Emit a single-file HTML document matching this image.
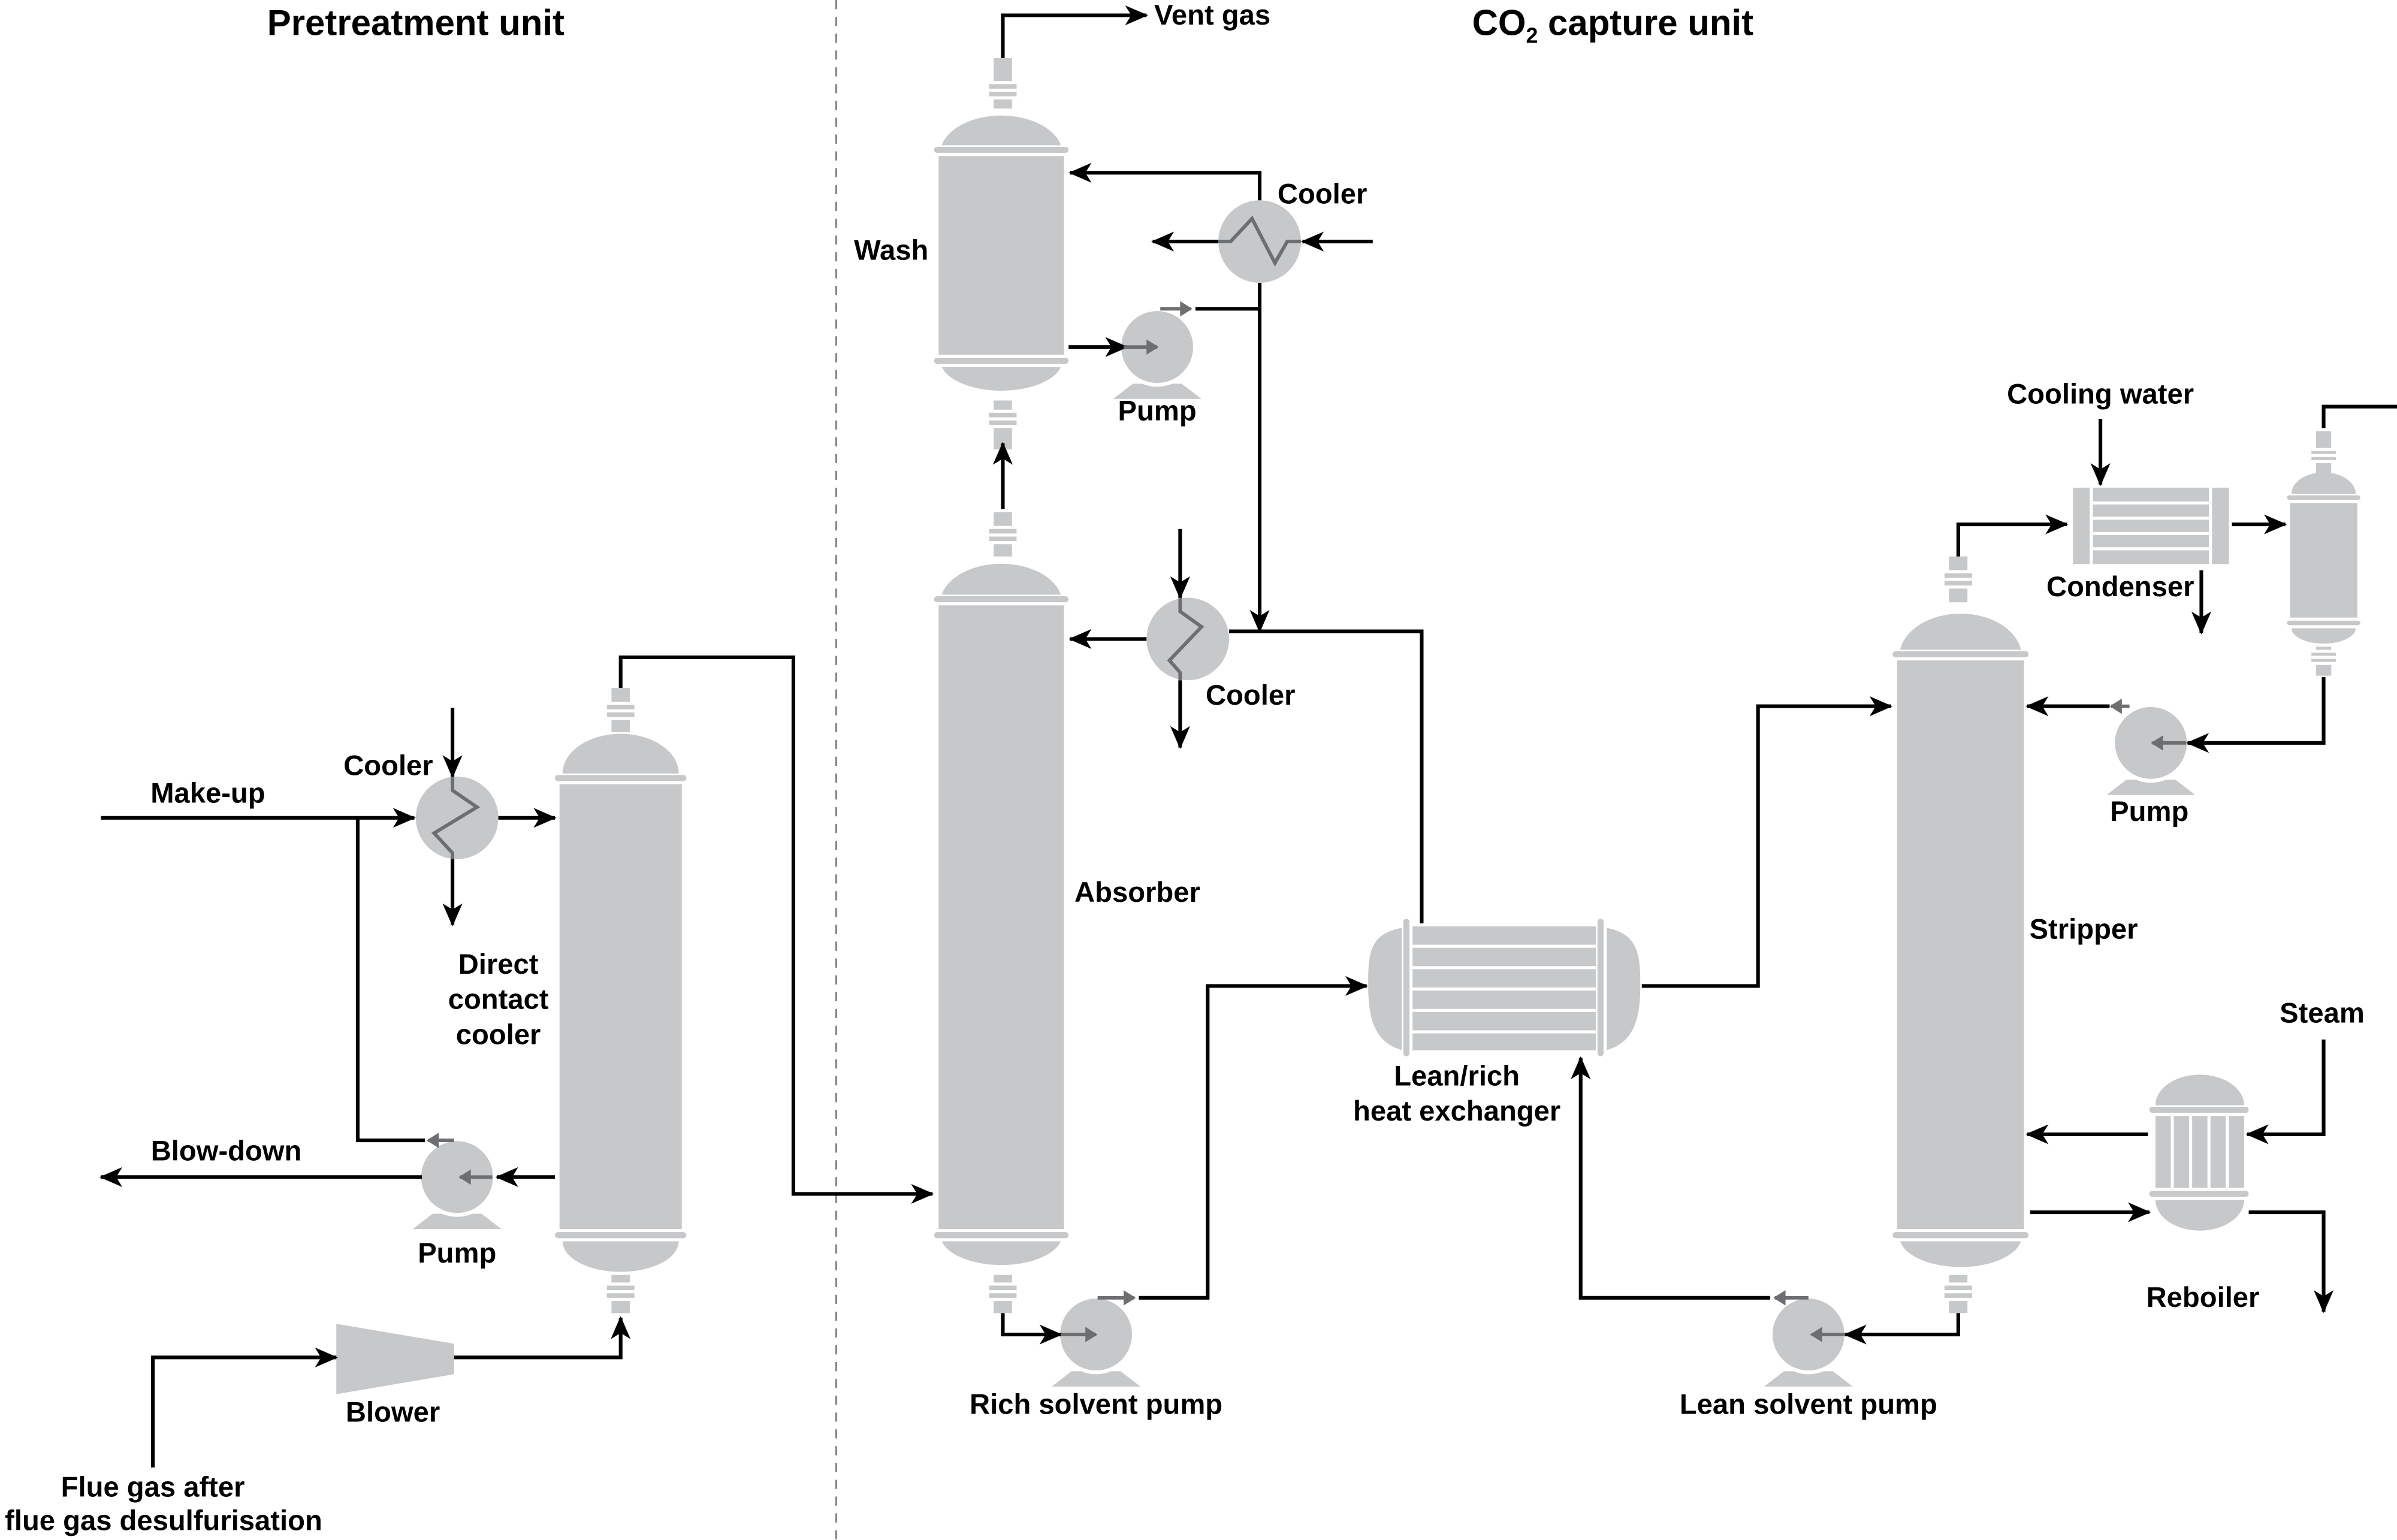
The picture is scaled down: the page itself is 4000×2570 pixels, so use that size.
<!DOCTYPE html>
<html><head><meta charset="utf-8"><style>
html,body{margin:0;padding:0;background:#fff;}
svg{display:block;}
text{font-family:"Liberation Sans Narrow","Liberation Sans",sans-serif;font-weight:bold;font-size:18.5px;fill:#000;}
</style></head><body>
<svg width="4000" height="2570" viewBox="0 0 1568 1007.4" xmlns="http://www.w3.org/2000/svg">
<defs>
<marker id="a" markerUnits="userSpaceOnUse" orient="auto" overflow="visible" markerWidth="1" markerHeight="1" refX="0" refY="0"><path d="M1,0 L-14,-6.5 L-10,0 L-14,6.5 Z" fill="#000"/></marker>
<marker id="g" markerUnits="userSpaceOnUse" orient="auto" overflow="visible" markerWidth="1" markerHeight="1" refX="0" refY="0"><path d="M1,0 L-7,-5 L-7,5 Z" fill="#6d6e70"/></marker>
<g id="pump"><path d="M-29,34 L-16,24 L16,24 L29,34 Z" fill="#c7c8ca"/><circle r="26" fill="#fff"/><circle r="23.5" fill="#c7c8ca"/></g>
</defs>
<rect width="1568" height="1007.4" fill="#fff"/>
<line x1="547" y1="0" x2="547" y2="1007" stroke="#888" stroke-width="1.3" stroke-dasharray="6,5"/>

<g fill="#c7c8ca">
<rect x="650" y="38" width="12" height="15"/><rect x="647" y="55" width="18" height="3"/><rect x="647" y="60" width="18" height="3"/><rect x="650" y="65" width="12" height="6"/>
<path d="M616,95 A40,25 0 0 1 694,95 Z"/><rect x="611" y="96" width="88" height="4" rx="2"/><rect x="614" y="102" width="82" height="130"/><rect x="611" y="234" width="88" height="4" rx="2"/><path d="M616,240 A40,20 0 0 0 694,240 Z"/>
<rect x="650" y="262" width="12" height="6"/><rect x="647" y="270" width="18" height="3"/><rect x="647" y="275" width="18" height="3"/><rect x="650" y="280" width="12" height="14"/>
<rect x="650" y="335" width="12" height="9"/><rect x="647" y="346" width="18" height="3"/><rect x="647" y="351" width="18" height="3"/><rect x="650" y="356" width="12" height="8"/>
<path d="M616,389 A40,26 0 0 1 694,389 Z"/><rect x="611" y="390" width="88" height="4" rx="2"/><rect x="614" y="396" width="82" height="408"/><rect x="611" y="806" width="88" height="4" rx="2"/><path d="M616,812 A40,20 0 0 0 694,812 Z"/>
<rect x="650" y="834" width="12" height="5"/><rect x="647" y="841" width="18" height="3"/><rect x="647" y="846" width="18" height="3"/><rect x="650" y="851" width="12" height="8"/>
<rect x="400" y="450" width="12" height="9"/><rect x="397" y="461" width="18" height="3"/><rect x="397" y="466" width="18" height="3"/><rect x="400" y="471" width="12" height="8"/>
<path d="M368,506 A38,26 0 0 1 444,506 Z"/><rect x="363" y="507" width="86" height="4" rx="2"/><rect x="366" y="513" width="80" height="291"/><rect x="363" y="806" width="86" height="4" rx="2"/><path d="M368,812 A38,20 0 0 0 444,812 Z"/>
<rect x="400" y="834" width="12" height="5"/><rect x="397" y="841" width="18" height="3"/><rect x="397" y="846" width="18" height="3"/><rect x="400" y="851" width="12" height="8"/>
<rect x="1275" y="364" width="12" height="9"/><rect x="1272" y="375" width="18" height="3"/><rect x="1272" y="380" width="18" height="3"/><rect x="1275" y="385" width="12" height="9"/>
<path d="M1243,425 A40,28 0 0 1 1322,425 Z"/><rect x="1238" y="426" width="89" height="4" rx="2"/><rect x="1241" y="432" width="83" height="372"/><rect x="1238" y="806" width="89" height="4" rx="2"/><path d="M1243,812 A40,20 0 0 0 1322,812 Z"/>
<rect x="1275" y="834" width="12" height="5"/><rect x="1272" y="841" width="18" height="3"/><rect x="1272" y="846" width="18" height="3"/><rect x="1275" y="851" width="12" height="8"/>
<rect x="1515" y="282" width="10" height="11"/><rect x="1512" y="295" width="16" height="2"/><rect x="1512" y="299" width="16" height="2"/><rect x="1515" y="303" width="10" height="7"/>
<path d="M1499,323 A21,14 0 0 1 1541,323 Z"/><rect x="1496" y="324" width="48" height="3" rx="1.5"/><rect x="1498" y="329" width="44" height="75"/><rect x="1496" y="406" width="48" height="3" rx="1.5"/><path d="M1499,411 A21,10 0 0 0 1541,411 Z"/>
<rect x="1515" y="423" width="10" height="2"/><rect x="1512" y="427" width="16" height="2"/><rect x="1512" y="431" width="16" height="2"/><rect x="1515" y="435" width="10" height="7"/>
<path d="M1410,723 A29,20 0 0 1 1468,723 Z"/><rect x="1406" y="724" width="65" height="4" rx="2"/>
<rect x="1410" y="730" width="10" height="47"/><rect x="1422" y="730" width="10" height="47"/><rect x="1434" y="730" width="10" height="47"/><rect x="1446" y="730" width="10" height="47"/><rect x="1458" y="730" width="10" height="47"/>
<rect x="1406" y="779" width="65" height="4" rx="2"/><path d="M1410,785 A29,20 0 0 0 1468,785 Z"/>
<rect x="1356" y="319" width="11" height="50"/><rect x="1447" y="319" width="11" height="50"/>
<rect x="1369" y="319" width="76" height="9"/><rect x="1369" y="330" width="76" height="8"/><rect x="1369" y="340" width="76" height="8"/><rect x="1369" y="350" width="76" height="8"/><rect x="1369" y="360" width="76" height="9"/>
<path d="M917,607 C895,611 895,625 895,645 C895,668 900,682 917,687 Z"/><rect x="918" y="601" width="4" height="90" rx="2"/>
<rect x="924" y="606" width="120" height="12"/><rect x="924" y="620" width="120" height="12"/><rect x="924" y="634" width="120" height="12"/><rect x="924" y="648" width="120" height="12"/><rect x="924" y="662" width="120" height="12"/><rect x="924" y="676" width="120" height="11"/>
<rect x="1045" y="601" width="4" height="90" rx="2"/><path d="M1051,607 C1072,611 1073,625 1073,645 C1073,668 1068,682 1051,687 Z"/>
<path d="M220,866 L297,879 L297,899 L220,912 Z"/>
<circle cx="824" cy="158" r="27"/><circle cx="777" cy="418" r="27"/><circle cx="299" cy="535" r="27"/>
</g>
<use href="#pump" x="757" y="227"/><use href="#pump" x="299" y="770"/><use href="#pump" x="717" y="873"/><use href="#pump" x="1183" y="873"/><use href="#pump" x="1407" y="486"/>

<g fill="none" stroke="#000" stroke-width="2.4" stroke-linejoin="miter">
<path d="M656,38 V10 H750" marker-end="url(#a)"/>
<path d="M824,131 V113 H700" marker-end="url(#a)"/>
<path d="M898,158 H852" marker-end="url(#a)"/>
<path d="M797,158 H754" marker-end="url(#a)"/>
<path d="M824,185 V413" marker-end="url(#a)"/>
<path d="M782,202 H824"/>
<path d="M699,227 H737" marker-end="url(#a)"/>
<path d="M656,333 V290" marker-end="url(#a)"/>
<path d="M930,604 V413 H804"/>
<path d="M750,418 H700" marker-end="url(#a)"/>
<path d="M772,346 V391" marker-end="url(#a)"/>
<path d="M772,445 V489" marker-end="url(#a)"/>
<path d="M656,859 V873 H694" marker-end="url(#a)"/>
<path d="M745,849 H790 V645 H894" marker-end="url(#a)"/>
<path d="M1074,645 H1150 V462 H1237" marker-end="url(#a)"/>
<path d="M1281,859 V873 H1207" marker-end="url(#a)"/>
<path d="M1158,849 H1034 V692" marker-end="url(#a)"/>
<path d="M1281,364 V343 H1352" marker-end="url(#a)"/>
<path d="M1374,274 V317" marker-end="url(#a)"/>
<path d="M1440,373 V414" marker-end="url(#a)"/>
<path d="M1460,343 H1495" marker-end="url(#a)"/>
<path d="M1520,280 V266 H1568"/>
<path d="M1520,443 V486 H1431" marker-end="url(#a)"/>
<path d="M1380,462 H1326" marker-end="url(#a)"/>
<path d="M1520,680 V742 H1470" marker-end="url(#a)"/>
<path d="M1405,742 H1326" marker-end="url(#a)"/>
<path d="M1328,793 H1406" marker-end="url(#a)"/>
<path d="M1471,793 H1520 V858" marker-end="url(#a)"/>
<path d="M66,535 H271" marker-end="url(#a)"/>
<path d="M234,535 V746 H278"/>
<path d="M326,535 H363" marker-end="url(#a)"/>
<path d="M296,463 V508" marker-end="url(#a)"/>
<path d="M296,562 V605" marker-end="url(#a)"/>
<path d="M363,770 H325" marker-end="url(#a)"/>
<path d="M276,770 H66" marker-end="url(#a)"/>
<path d="M406,450 V430 H519 V781 H610" marker-end="url(#a)"/>
<path d="M100,960 V888 H220" marker-end="url(#a)"/>
<path d="M297,888 H406 V862" marker-end="url(#a)"/>
</g>
<g fill="none" stroke="#6d6e70" stroke-width="2.3">
<path d="M759,202 H779" marker-end="url(#g)"/>
<path d="M735,227 H757" marker-end="url(#g)"/>
<path d="M297,746 H280" marker-end="url(#g)"/>
<path d="M322,770 H301" marker-end="url(#g)"/>
<path d="M718,849 H742" marker-end="url(#g)"/>
<path d="M694,873 H717" marker-end="url(#g)"/>
<path d="M1183,849 H1161" marker-end="url(#g)"/>
<path d="M1207,873 H1185" marker-end="url(#g)"/>
<path d="M1393,462 H1381" marker-end="url(#g)"/>
<path d="M1430,486 H1408" marker-end="url(#g)"/>
<path d="M797,158 H805 L819,143 L834,172 L842,158 H851"/>
<path d="M772,391 V400 L786,410 L765,432 L772,440 V445"/>
<path d="M296,508 V517 L312,528 L284,545 L296,558 V562"/>
</g>

<text x="272" y="23" text-anchor="middle" style="font-size:23.5px">Pretreatment unit</text>
<text x="1055" y="23" text-anchor="middle" style="font-size:23.5px">CO<tspan style="font-size:14px" dy="5">2</tspan><tspan dy="-5"> capture unit</tspan></text>
<text x="755" y="16">Vent gas</text>
<text x="583" y="170" text-anchor="middle">Wash</text>
<text x="865" y="133" text-anchor="middle">Cooler</text>
<text x="757" y="275" text-anchor="middle">Pump</text>
<text x="818" y="461" text-anchor="middle">Cooler</text>
<text x="744" y="590" text-anchor="middle">Absorber</text>
<text x="953" y="710" text-anchor="middle">Lean/rich</text>
<text x="953" y="733" text-anchor="middle">heat exchanger</text>
<text x="717" y="925" text-anchor="middle">Rich solvent pump</text>
<text x="1183" y="925" text-anchor="middle">Lean solvent pump</text>
<text x="1363" y="614" text-anchor="middle">Stripper</text>
<text x="1374" y="264" text-anchor="middle">Cooling water</text>
<text x="1387" y="390" text-anchor="middle">Condenser</text>
<text x="1406" y="537" text-anchor="middle">Pump</text>
<text x="1519" y="669" text-anchor="middle">Steam</text>
<text x="1441" y="855" text-anchor="middle">Reboiler</text>
<text x="136" y="525" text-anchor="middle">Make-up</text>
<text x="254" y="507" text-anchor="middle">Cooler</text>
<text x="326" y="637" text-anchor="middle">Direct</text>
<text x="326" y="660" text-anchor="middle">contact</text>
<text x="326" y="683" text-anchor="middle">cooler</text>
<text x="148" y="759" text-anchor="middle">Blow-down</text>
<text x="299" y="826" text-anchor="middle">Pump</text>
<text x="257" y="930" text-anchor="middle">Blower</text>
<text x="100" y="979" text-anchor="middle">Flue gas after</text>
<text x="107" y="1001" text-anchor="middle">flue gas desulfurisation</text>
</svg>
</body></html>
